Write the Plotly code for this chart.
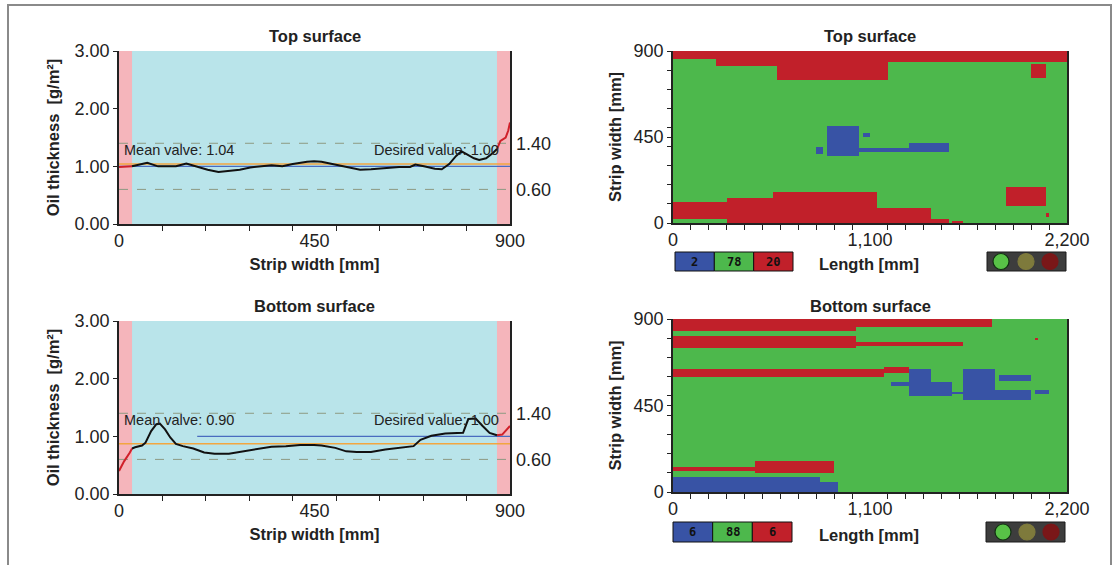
import numpy as np
import plotly.graph_objects as go

W, H = 1120, 565

# ---------------- data ----------------
top_x = [0, 25, 30, 65, 90, 131, 155, 204, 229, 253, 278, 302, 335, 351, 376, 400, 433, 449, 466, 498,
         523, 555, 580, 613, 645, 670, 682, 702, 727, 743, 760, 776, 788, 800, 817, 829, 845, 862, 870,
         878, 890, 896, 900]
top_y = [0.99, 1.00, 1.00, 1.06, 1.00, 1.00, 1.05, 0.94, 0.90, 0.92, 0.94, 0.98, 1.01, 1.02, 1.00, 1.04,
         1.08, 1.09, 1.08, 1.03, 0.98, 0.94, 0.95, 0.97, 0.99, 0.99, 1.03, 1.00, 0.96, 0.95, 1.04, 1.18,
         1.26, 1.21, 1.14, 1.11, 1.14, 1.24, 1.30, 1.44, 1.50, 1.62, 1.76]

bot_x = [0, 12, 25, 30, 37, 53, 61, 74, 86, 94, 106, 118, 131, 147, 171, 196, 220, 253, 286, 319, 351,
         384, 417, 449, 466, 498, 523, 547, 580, 613, 645, 678, 694, 719, 751, 792, 804, 821, 837, 853,
         870, 882, 900]
bot_y = [0.40, 0.57, 0.72, 0.79, 0.81, 0.84, 0.89, 1.09, 1.21, 1.22, 1.12, 0.98, 0.87, 0.83, 0.79, 0.72,
         0.70, 0.70, 0.74, 0.77, 0.82, 0.83, 0.85, 0.85, 0.84, 0.80, 0.74, 0.73, 0.73, 0.77, 0.80, 0.83,
         0.94, 1.01, 1.05, 1.06, 1.30, 1.31, 1.18, 1.06, 1.02, 1.03, 1.18]

edge_limits = [30, 870]          # edge zones (mm)
upper_limit, lower_limit = 1.40, 0.60
desired_value = 1.00
top_mean, bot_mean = 1.04, 0.90
top_mean_line, bot_mean_line = 1.04, 0.87
bot_desired_start = 180

top_pct = [2, 78, 20]
bot_pct = [6, 88, 6]

# heatmap class regions: (class, x0, x1, y0, y1)  1 = under, 2 = ok, 3 = over
top_regions = [
    (3, 0, 236, 860, 900), (3, 236, 580, 825, 900), (3, 580, 1193, 755, 900), (3, 1193, 2200, 842, 900),
    (3, 2001, 2075, 764, 834), (3, 0, 292, 23, 110), (3, 292, 561, 0, 127), (3, 561, 1137, 0, 162),
    (3, 1137, 1444, 0, 80), (3, 1444, 1537, 0, 17), (3, 1555, 1630, 0, 7), (3, 1862, 2075, 92, 188),
    (3, 2080, 2095, 35, 50),
    (1, 793, 831, 363, 398), (1, 868, 1035, 354, 506), (1, 1035, 1314, 375, 392),
    (1, 1063, 1091, 446, 467), (1, 1314, 1537, 371, 418),
]
bot_regions = [
    (3, 0, 1016, 845, 900), (3, 1016, 1787, 862, 900), (3, 0, 1016, 749, 806), (3, 1016, 1629, 761, 784),
    (3, 0, 1174, 605, 645), (3, 1174, 1312, 619, 650), (3, 2020, 2040, 795, 805),
    (1, 1211, 1312, 550, 572), (1, 1312, 1433, 501, 636), (1, 1433, 1555, 501, 567),
    (1, 1555, 1629, 506, 524), (1, 1629, 1796, 480, 640), (1, 1796, 1992, 484, 532),
    (1, 1824, 1992, 581, 610), (1, 2020, 2094, 506, 532),
    (3, 0, 468, 111, 128), (3, 468, 905, 102, 160),
    (1, 0, 820, 0, 81), (1, 820, 923, 0, 55),
]

# ---------------- styles ----------------
CYAN = "#b9e4ea"
PINK = "#f5b5bb"
BLUE = "#3853a5"
GREEN = "#4db84c"
RED = "#c1202a"
FONT = "Liberation Sans, Arial, sans-serif"


def px_x(p):
    return p / W


def px_y(p):
    return 1 - p / H


fig = go.Figure()

DX, DY = 20, 10
xc = np.arange(DX / 2, 2200, DX)
yc = np.arange(DY / 2, 900, DY)


def build_grid(regions):
    z = np.full((len(yc), len(xc)), 2)
    X, Y = np.meshgrid(xc, yc)
    for c, x0, x1, y0, y1 in regions:
        m = (X >= x0) & (X < x1) & (Y >= y0) & (Y < y1)
        z[m] = c
    return z


cscale = [[0, BLUE], [1 / 3, BLUE], [1 / 3, GREEN], [2 / 3, GREEN], [2 / 3, RED], [1, RED]]


def add_profile(xs, ys, xa, ya, mean_line, desired_x0):
    xs = np.array(xs)
    ys = np.array(ys)
    for v in (upper_limit, lower_limit):
        fig.add_trace(go.Scatter(x=[0, 900], y=[v, v], mode="lines", xaxis=xa, yaxis=ya,
                                 line=dict(color="#8d9a82", width=1, dash="dash"), hoverinfo="skip"))
    fig.add_trace(go.Scatter(x=[desired_x0, 900], y=[desired_value, desired_value], mode="lines",
                             xaxis=xa, yaxis=ya, line=dict(color="#4a6cc0", width=1.2), hoverinfo="skip"))
    fig.add_trace(go.Scatter(x=[0, 900], y=[mean_line, mean_line], mode="lines", xaxis=xa, yaxis=ya,
                             line=dict(color="#f2a640", width=1.5), hoverinfo="skip"))
    lo, hi = edge_limits
    mid = (xs >= lo) & (xs <= hi)
    left = xs <= lo
    right = xs >= hi
    fig.add_trace(go.Scatter(x=xs[left], y=ys[left], mode="lines", xaxis=xa, yaxis=ya,
                             line=dict(color="#d0202a", width=2)))
    fig.add_trace(go.Scatter(x=xs[right], y=ys[right], mode="lines", xaxis=xa, yaxis=ya,
                             line=dict(color="#d0202a", width=2)))
    fig.add_trace(go.Scatter(x=xs[mid], y=ys[mid], mode="lines", xaxis=xa, yaxis=ya,
                             line=dict(color="#111111", width=2)))


add_profile(top_x, top_y, "x", "y", top_mean_line, 0)
add_profile(bot_x, bot_y, "x2", "y3", bot_mean_line, bot_desired_start)

fig.add_trace(go.Heatmap(z=build_grid(top_regions), x=xc, y=yc, colorscale=cscale, zmin=0.5, zmax=3.5,
                         showscale=False, xaxis="x3", yaxis="y5"))
fig.add_trace(go.Heatmap(z=build_grid(bot_regions), x=xc, y=yc, colorscale=cscale, zmin=0.5, zmax=3.5,
                         showscale=False, xaxis="x4", yaxis="y6"))

# ---------------- axes ----------------
LX = [px_x(119), px_x(510)]
HX = [px_x(673), px_x(1067)]
TOPY = [px_y(224), px_y(51)]
BOTY = [px_y(494), px_y(321)]
HTOPY = [px_y(223), px_y(51)]
HBOTY = [px_y(492), px_y(319)]

tickfont = dict(family=FONT, size=18, color="#222")
titlefont = dict(family=FONT, size=16.5, color="#222")


def line_x(domain, anchor):
    return dict(domain=domain, anchor=anchor, range=[0, 900], tickvals=[0, 450, 900],
                ticktext=["0", "450", "900"], ticks="", showline=True, linecolor="#222", linewidth=1.5,
                showgrid=False, zeroline=False, tickfont=tickfont,
                minor=dict(tickvals=list(range(100, 900, 100)), ticks="outside", ticklen=5,
                           tickcolor="#222", showgrid=False),
                title=dict(text="<b>Strip width [mm]</b>", font=titlefont, standoff=8))


def line_y(domain, anchor):
    return dict(domain=domain, anchor=anchor, range=[0, 3], tickvals=[0, 1, 2, 3],
                ticktext=["0.00", "1.00", "2.00", "3.00"], ticks="outside", ticklen=4, tickcolor="#222",
                showline=True, linecolor="#222", linewidth=1.5, mirror=True, showgrid=False,
                zeroline=False, tickfont=tickfont,
                title=dict(text="<b>Oil thickness  [g/m²]</b>", font=titlefont, standoff=11))


def right_y(overlay, anchor):
    return dict(overlaying=overlay, anchor=anchor, side="right", range=[0, 3],
                tickvals=[lower_limit, upper_limit], ticktext=["0.60", "1.40"], ticks="",
                showline=False, showgrid=False, zeroline=False, tickfont=tickfont, ticklabelstandoff=5)


def heat_x(domain, anchor):
    return dict(domain=domain, anchor=anchor, range=[0, 2200], tickvals=[0, 1100, 2200],
                ticktext=["0", "1,100", "2,200"], ticks="", showline=True, linecolor="#222",
                linewidth=1.5, showgrid=False, zeroline=False, tickfont=tickfont,
                minor=dict(tickvals=[v for v in range(100, 2200, 100) if v != 1100], ticks="outside",
                           ticklen=5, tickcolor="#222", showgrid=False))


def heat_y(domain, anchor):
    return dict(domain=domain, anchor=anchor, range=[0, 900], tickvals=[0, 450, 900],
                ticktext=["0", "450", "900"], ticks="outside", ticklen=4, tickcolor="#222",
                showline=True, linecolor="#222", linewidth=1.5, mirror=True, showgrid=False,
                zeroline=False, tickfont=tickfont,
                minor=dict(tickvals=[v for v in range(100, 900, 100) if v != 450], ticks="outside",
                           ticklen=4, tickcolor="#222", showgrid=False),
                title=dict(text="<b>Strip width [mm]</b>", font=titlefont, standoff=8))


fig.update_layout(
    xaxis=line_x(LX, "y"), yaxis=line_y(TOPY, "x"), yaxis2=right_y("y", "x"),
    xaxis2=line_x(LX, "y3"), yaxis3=line_y(BOTY, "x2"), yaxis4=right_y("y3", "x2"),
    xaxis3=heat_x(HX, "y5"), yaxis5=heat_y(HTOPY, "x3"),
    xaxis4=heat_x(HX, "y6"), yaxis6=heat_y(HBOTY, "x4"),
)

fig.add_trace(go.Scatter(x=[None], y=[None], xaxis="x", yaxis="y2", showlegend=False))
fig.add_trace(go.Scatter(x=[None], y=[None], xaxis="x2", yaxis="y4", showlegend=False))

shapes = []
annotations = []

for xr, yr in (("x", "y"), ("x2", "y3")):
    for x0, x1 in ((0, edge_limits[0]), (edge_limits[1], 900)):
        shapes.append(dict(type="rect", xref=xr, yref=f"{yr} domain", x0=x0, x1=x1, y0=0, y1=1,
                           fillcolor=PINK, line=dict(width=0), layer="below"))

for ytitle, title in ((36, "Top surface"), (306, "Bottom surface")):
    for xc_ in ((119 + 510) / 2, (673 + 1067) / 2):
        annotations.append(dict(x=px_x(xc_), y=px_y(ytitle), xref="paper", yref="paper", showarrow=False,
                                text=f"<b>{title}</b>", font=titlefont,
                                xanchor="center", yanchor="middle"))

valfont = dict(family=FONT, size=14.5, color="#222")
for xr, yr, mean in (("x", "y", top_mean), ("x2", "y3", bot_mean)):
    annotations.append(dict(x=6, y=1.29, xref=xr, yref=yr, showarrow=False, xanchor="left",
                            yanchor="middle", text=f"Mean valve: {mean:.2f}", font=valfont))
    annotations.append(dict(x=880, y=1.29, xref=xr, yref=yr, showarrow=False, xanchor="right",
                            yanchor="middle", text=f"Desired value: {desired_value:.2f}", font=valfont))

for yy in (264, 535):
    annotations.append(dict(x=px_x(869), y=px_y(yy), xref="paper", yref="paper", showarrow=False,
                            text="<b>Length [mm]</b>", font=titlefont, xanchor="center", yanchor="middle"))

cell_cols = [BLUE, GREEN, RED]
for (y0p, y1p, pcts, x0p, x1p, tx0, tx1, cx) in (
        (252, 271, top_pct, 675, 793, 987, 1066, [1001, 1026, 1050]),
        (522, 542, bot_pct, 673, 792, 986, 1065, [1003, 1027, 1051])):
    cw = (x1p - x0p) / 3
    for i, (col, p) in enumerate(zip(cell_cols, pcts)):
        a, b = x0p + i * cw, x0p + (i + 1) * cw
        shapes.append(dict(type="rect", xref="paper", yref="paper", x0=px_x(a), x1=px_x(b),
                           y0=px_y(y1p), y1=px_y(y0p), fillcolor=col, line=dict(color="#111", width=1)))
        annotations.append(dict(x=px_x((a + b) / 2), y=px_y((y0p + y1p) / 2), xref="paper", yref="paper",
                                showarrow=False, text=f"<b>{p}</b>",
                                font=dict(family="DejaVu Sans Mono, monospace", size=12, color="#111"),
                                xanchor="center", yanchor="middle"))
    shapes.append(dict(type="rect", xref="paper", yref="paper", x0=px_x(tx0), x1=px_x(tx1),
                       y0=px_y(y1p), y1=px_y(y0p), fillcolor="#3d3d3d", line=dict(color="#1a1a1a", width=1)))
    ym = (y0p + y1p) / 2
    for c, fill, lc in zip(cx, ["#58c247", "#7e7a3c", "#7a1718"], ["#123012", "#7e7a3c", "#7a1718"]):
        shapes.append(dict(type="circle", xref="paper", yref="paper", x0=px_x(c - 8), x1=px_x(c + 8),
                           y0=px_y(ym + 8), y1=px_y(ym - 8), fillcolor=fill, line=dict(color=lc, width=1.2)))

shapes.append(dict(type="path", xref="paper", yref="paper",
                   path=f"M {px_x(8)} -0.02 L {px_x(8)} {px_y(5)} L {px_x(1111)} {px_y(5)} L {px_x(1111)} -0.02",
                   line=dict(color="#8a8a8a", width=2)))

fig.update_layout(margin=dict(l=0, r=0, t=0, b=0, autoexpand=False), showlegend=False, autosize=True,
                  plot_bgcolor=CYAN, paper_bgcolor="white", shapes=shapes, annotations=annotations,
                  font=dict(family=FONT, color="#222"))

fig.write_html("out.html", config={"displayModeBar": False},
               default_width=f"{W}px;position:fixed;left:0;top:0", default_height=f"{H}px",
               post_script="document.body.style.margin='0';")
